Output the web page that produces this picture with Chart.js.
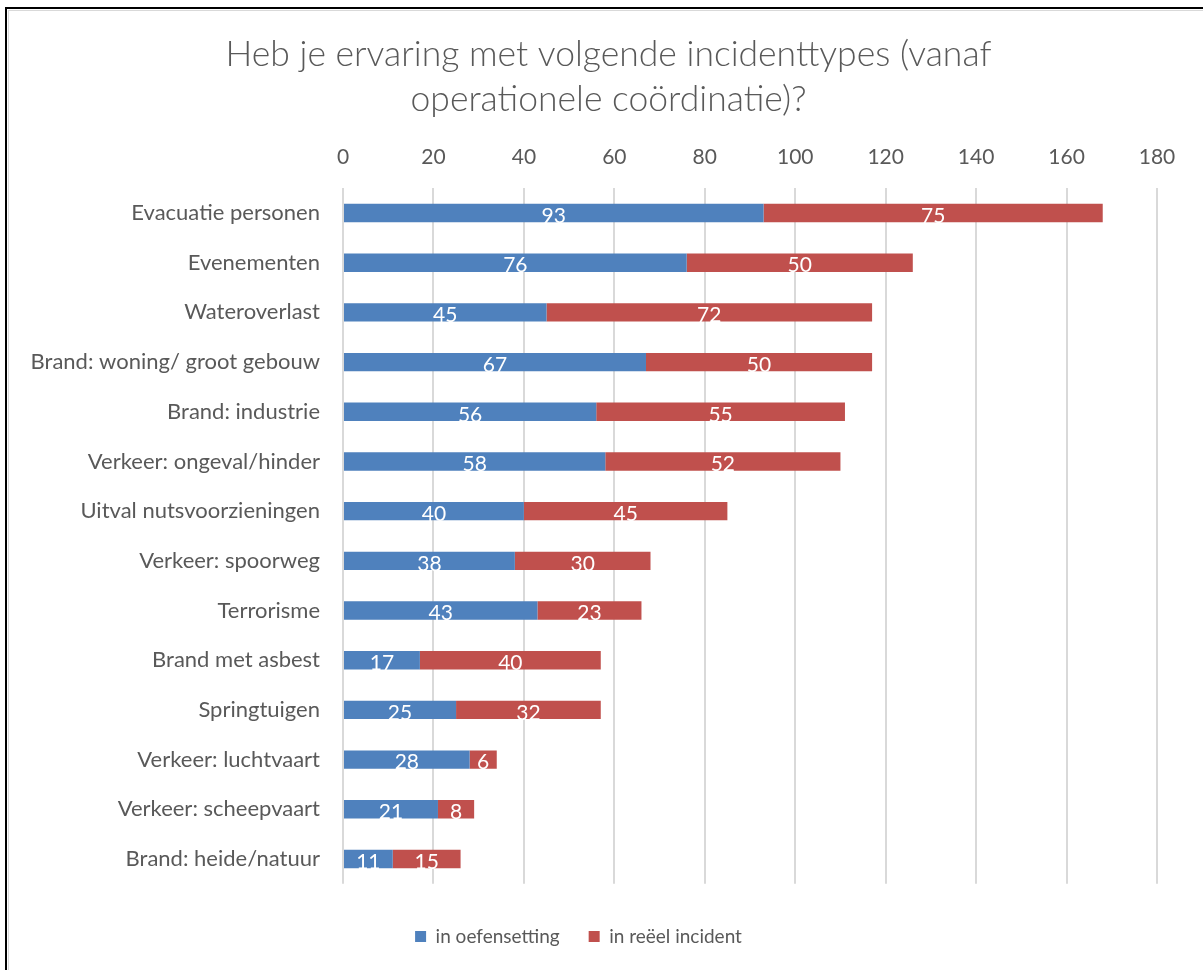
<!DOCTYPE html>
<html>
<head>
<meta charset="utf-8">
<title>Incidenttypes</title>
<script src="https://cdn.jsdelivr.net/npm/chart.js@4.4.1/dist/chart.umd.min.js"></script>
<style>
    html, body { margin: 0; padding: 0; background: #fff; }
    #wrap { position: relative; width: 1203px; height: 970px; overflow: hidden; }
    /* kader rond de grafiek (links en boven zichtbaar) */
    #wrap::before {
        content: ''; position: absolute; left: 5px; top: 7px; right: -20px; bottom: -20px;
        border-left: 2px solid #000; border-top: 2px solid #000; pointer-events: none;
    }
    #wrap::after {
        content: ''; position: absolute; left: 8px; top: 10px; right: -20px; bottom: -20px;
        border-left: 1px solid #d9d9d9; border-top: 1px solid #d9d9d9; pointer-events: none;
    }
    canvas { position: absolute; left: 0; top: 0; }
</style>
</head>
<body>
<div id="wrap"><canvas id="chart" width="1203" height="970"></canvas></div>
<script>
// Gegevens
const categories = [
    'Evacuatie personen',
    'Evenementen',
    'Wateroverlast',
    'Brand: woning/ groot gebouw',
    'Brand: industrie',
    'Verkeer: ongeval/hinder',
    'Uitval nutsvoorzieningen',
    'Verkeer: spoorweg',
    'Terrorisme',
    'Brand met asbest',
    'Springtuigen',
    'Verkeer: luchtvaart',
    'Verkeer: scheepvaart',
    'Brand: heide/natuur'
];
const inOefensetting = [93, 76, 45, 67, 56, 58, 40, 38, 43, 17, 25, 28, 21, 11];
const inReeelIncident = [75, 50, 72, 50, 55, 52, 45, 30, 23, 40, 32, 6, 8, 15];
const xTickValues = [0, 20, 40, 60, 80, 100, 120, 140, 160, 180];

const kleuren = {
    blauw: '#4f81bd',
    rood: '#c0504d',
    tekst: '#595959',
    raster: '#d9d9d9'
};
const fontFamily = "Lato, 'Open Sans', sans-serif";

// Waarden wit en gecentreerd in elk segment
const barValueLabels = {
    id: 'barValueLabels',
    afterDatasetsDraw(chart) {
        const ctx = chart.ctx;
        ctx.save();
        ctx.font = `21px ${fontFamily}`;
        ctx.fillStyle = '#ffffff';
        ctx.textAlign = 'center';
        ctx.textBaseline = 'middle';
        chart.data.datasets.forEach((ds, i) => {
            chart.getDatasetMeta(i).data.forEach((bar, j) => {
                const p = bar.getProps(['x', 'y', 'base'], true);
                ctx.fillText(String(ds.data[j]), (p.x + p.base) / 2, p.y + 3);
            });
        });
        ctx.restore();
    }
};

// Titel iets naar rechts: centreren over de volle breedte van het kader
const titleCenter = {
    id: 'titleCenter',
    afterLayout(chart) {
        if (chart.titleBlock) chart.titleBlock.left = 60;
    }
};

new Chart(document.getElementById('chart'), {
    type: 'bar',
    data: {
        labels: categories,
        datasets: [{
            label: 'in oefensetting',
            data: inOefensetting,
            backgroundColor: kleuren.blauw,
            barPercentage: 0.37,
            categoryPercentage: 1
        }, {
            label: 'in reëel incident',
            data: inReeelIncident,
            backgroundColor: kleuren.rood,
            barPercentage: 0.37,
            categoryPercentage: 1
        }]
    },
    options: {
        indexAxis: 'y',
        responsive: false,
        animation: false,
        devicePixelRatio: 1,
        layout: { padding: { left: 0, right: 46, top: 0, bottom: 14 } },
        plugins: {
            title: {
                display: true,
                text: ['Heb je ervaring met volgende incidenttypes (vanaf', 'operationele coördinatie)?'],
                color: kleuren.tekst,
                font: { family: fontFamily, size: 35.5, weight: '300', lineHeight: 1.27 },
                padding: { top: 32, bottom: 10 }
            },
            legend: {
                position: 'bottom',
                title: { display: true, text: '', font: { size: 1 }, padding: { top: 13, bottom: 0 } },
                labels: {
                    boxWidth: 11,
                    boxHeight: 11,
                    padding: 29,
                    color: kleuren.tekst,
                    font: { family: fontFamily, size: 19 }
                }
            },
            tooltip: { enabled: false }
        },
        scales: {
            x: {
                position: 'top',
                stacked: true,
                min: 0,
                max: 180,
                afterBuildTicks: scale => { scale.ticks = xTickValues.map(v => ({ value: v })); },
                afterFit: scale => { scale.height = 56; },
                grid: { color: kleuren.raster, lineWidth: 2, drawTicks: false },
                border: { display: false },
                ticks: {
                    color: kleuren.tekst,
                    padding: 18,
                    font: { family: fontFamily, size: 21 }
                }
            },
            y: {
                stacked: true,
                afterFit: scale => { scale.width = 343; },
                grid: { display: false, drawTicks: false },
                border: { display: false },
                ticks: {
                    color: kleuren.tekst,
                    padding: 23,
                    font: { family: fontFamily, size: 22 }
                }
            }
        }
    },
    plugins: [barValueLabels, titleCenter]
});
</script>
</body>
</html>
